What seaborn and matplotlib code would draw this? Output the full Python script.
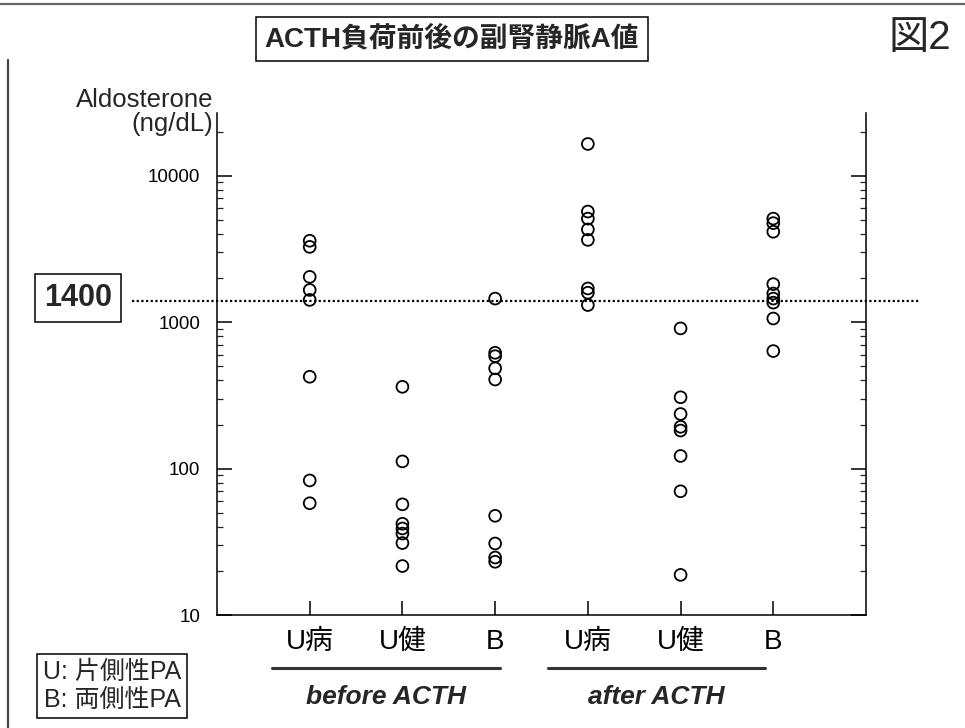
import numpy as np
import pandas as pd
import matplotlib
matplotlib.use('Agg')
import matplotlib.pyplot as plt
import matplotlib.transforms as mtransforms
from matplotlib.lines import Line2D
from matplotlib.ticker import LogLocator, NullFormatter
import seaborn as sns

# ─────────────────────────────────────────────
# DATA  (aldosterone, ng/dL)
# ─────────────────────────────────────────────
GROUPS      = ['before U病', 'before U健', 'before B', 'after U病', 'after U健', 'after B']
TICK_LABELS = ['U病', 'U健', 'B', 'U病', 'U健', 'B']

before_u_affected = [3600, 3270, 2040, 1660, 1420, 424, 83, 58]
before_u_healthy  = [362, 112, 57, 42, 39, 36, 31, 21.6]
before_bilateral  = [1450, 618, 586, 484, 406, 47.6, 30.8, 24.7, 23.1]
after_u_affected  = [16500, 5700, 5100, 4300, 3650, 1700, 1590, 1310]
after_u_healthy   = [907, 307, 236, 193, 182, 122, 70, 18.8]
after_bilateral   = [5100, 4750, 4150, 1820, 1570, 1450, 1360, 1060, 635]

THRESHOLD = 1400
Y_TICKS   = [10, 100, 1000, 10000]
Y_MAX     = 26850

TITLE       = 'ACTH負荷前後の副腎静脈A値'
FIG_NO      = '図2'
Y_LABEL     = 'Aldosterone\n(ng/dL)'
LEGEND_TEXT = 'U: 片側性PA\nB: 両側性PA'
PERIODS     = ['before ACTH', 'after ACTH']

series = [before_u_affected, before_u_healthy, before_bilateral,
          after_u_affected, after_u_healthy, after_bilateral]
df = pd.DataFrame([(g, v) for g, vals in zip(GROUPS, series) for v in vals],
                  columns=['group', 'value'])

sns.set_theme(style='white')
plt.rcParams['font.family'] = ['Liberation Sans', 'Noto Sans CJK JP']

W, H = 965, 728
fig = plt.figure(figsize=(W / 100, H / 100), dpi=100)
fig.patch.set_facecolor('white')
ax = fig.add_axes([217 / W, 1 - 615 / H, (866 - 217) / W, (615 - 113) / H])

# ─────────────────────────────────────────────
# POINTS
# ─────────────────────────────────────────────
sns.stripplot(data=df, x='group', y='value', order=GROUPS, jitter=False,
              size=8.5, color='black', linewidth=1.3, log_scale=True, ax=ax)
for coll in ax.collections:
    coll.set_facecolor('none')
    coll.set_edgecolor('black')
    coll.set_linewidth(1.3)

ax.set_xlim(-1, 6)
ax.set_ylim(Y_TICKS[0], Y_MAX)
ax.set_xlabel('')
ax.set_ylabel('')

# ─────────────────────────────────────────────
# AXES STYLE
# ─────────────────────────────────────────────
ax.spines['top'].set_visible(False)
for side in ['left', 'right', 'bottom']:
    ax.spines[side].set_visible(True)
    ax.spines[side].set_color('black')
    ax.spines[side].set_linewidth(1.1)

ax.set_yticks(Y_TICKS, labels=[str(t) for t in Y_TICKS])
ax.yaxis.set_minor_locator(LogLocator(base=10, subs=np.arange(2, 10)))
ax.yaxis.set_minor_formatter(NullFormatter())
ax.tick_params(axis='y', which='major', direction='in', left=True, right=True,
               length=11, width=1.1, pad=12, labelsize=13.5, colors='black')
ax.tick_params(axis='y', which='minor', direction='in', left=True, right=True,
               length=4.5, width=0.9)

ax.set_xticks(range(len(GROUPS)), labels=TICK_LABELS)
ax.tick_params(axis='x', direction='in', bottom=True, length=10, width=1.1,
               pad=10, labelsize=20, colors='black')
ax.grid(False)

# threshold line, running out past both spines
ax.axhline(THRESHOLD, xmin=(132 - 217) / 649, xmax=(920 - 217) / 649,
           color='black', lw=1.6, ls=(0, (1, 1.1)), clip_on=False)

fig_y = mtransforms.blended_transform_factory(fig.transFigure, ax.transData)
ax.text(78 / W, THRESHOLD * 1.04, str(THRESHOLD), transform=fig_y,
        ha='center', va='center', fontsize=22, fontweight='bold',
        bbox=dict(boxstyle='square,pad=0.3', fc='white', ec='black', lw=1.1))

# ─────────────────────────────────────────────
# TEXT AROUND THE PLOT
# ─────────────────────────────────────────────
fig.text(213 / W, 1 - 88 / H, Y_LABEL, ha='right', va='top',
         fontsize=18.5, linespacing=1.0)

fig.text(452 / W, 1 - 39 / H, TITLE, ha='center', va='center',
         fontsize=20, fontweight='bold',
         bbox=dict(boxstyle='square,pad=0.3', fc='white', ec='black', lw=1.1))
fig.text(920 / W, 1 - 38 / H, FIG_NO, ha='center', va='center', fontsize=29)

fig.text(112 / W, 1 - 686 / H, LEGEND_TEXT, ha='center', va='center',
         fontsize=18, linespacing=1.2,
         bbox=dict(boxstyle='square,pad=0.25', fc='white', ec='black', lw=1.1))

# period underlines and captions under the category labels
x_fig = mtransforms.blended_transform_factory(ax.transData, fig.transFigure)
spans = [(-0.41, 2.05), (2.57, 4.91)]
for (x0, x1), label in zip(spans, PERIODS):
    ax.plot([x0, x1], [1 - 668 / H] * 2, transform=x_fig, color='#333333',
            lw=2.2, clip_on=False)
    ax.text((x0 + x1) / 2, 1 - 697 / H, label, transform=x_fig,
            ha='center', va='center', fontsize=19, fontweight='bold',
            fontstyle='italic')

# scan frame lines
fig.add_artist(Line2D([8 / W, 8 / W], [0, 1 - 60 / H], transform=fig.transFigure,
                      color='#444444', lw=1.6))
fig.add_artist(Line2D([0, 1], [1 - 4 / H, 1 - 4 / H], transform=fig.transFigure,
                      color='#666666', lw=1.6))

plt.savefig('out.png', dpi=100)
